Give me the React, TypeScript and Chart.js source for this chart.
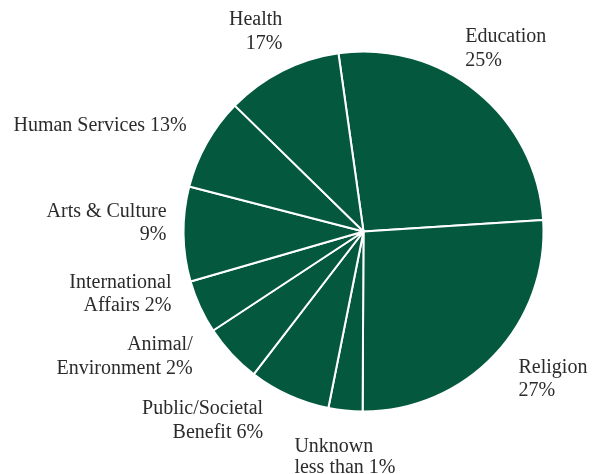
import React, { useEffect, useRef } from "react";
import { Chart, registerables } from "chart.js";

Chart.register(...registerables);

// Slice sizes as drawn (share of the circle, %), clockwise from Education
const categories = [
  "Education",
  "Religion",
  "Unknown",
  "Public/Societal Benefit",
  "Animal/Environment",
  "International Affairs",
  "Arts & Culture",
  "Human Services",
  "Health",
];
const sliceValues = [26.2, 26.1, 3.05, 7.3, 5.3, 4.8, 8.5, 8.3, 10.45];
// Label text lines as printed
const labelLines: string[][] = [
  ["Education", "25%"],
  ["Religion", "27%"],
  ["Unknown", "less than 1%"],
  ["Public/Societal", "Benefit 6%"],
  ["Animal/", "Environment 2%"],
  ["International", "Affairs 2%"],
  ["Arts & Culture", "9%"],
  ["Human Services 13%"],
  ["Health", "17%"],
];

// Label placement relative to each slice's outer mid point
const labelLayout: { align: CanvasTextAlign; dx: number; dy: number; lh: number }[] = [
  { align: "left", dx: -12, dy: -50, lh: 24 },
  { align: "left", dx: 24, dy: 18, lh: 23.5 },
  { align: "left", dx: -51, dy: 41, lh: 21.5 },
  { align: "right", dx: -26, dy: 19, lh: 23.5 },
  { align: "right", dx: -39, dy: -4, lh: 23.5 },
  { align: "right", dx: -28.5, dy: -19, lh: 23.5 },
  { align: "right", dx: -17, dy: -17.5, lh: 23.5 },
  { align: "right", dx: -20, dy: -12.5, lh: 23.5 },
  { align: "right", dx: 0, dy: -46, lh: 24 },
];

const GREEN = "#03583e";
const TEXT = "#2b2b2b";
const FONT = '20px "Liberation Serif", "DejaVu Serif", serif';

const labelPlugin = {
  id: "sliceLabels",
  afterDraw(chart: any) {
    const ctx = chart.ctx;
    const meta = chart.getDatasetMeta(0);
    ctx.save();
    ctx.font = FONT;
    ctx.fillStyle = TEXT;
    ctx.textBaseline = "alphabetic";
    meta.data.forEach((arc: any, i: number) => {
      const { x, y, startAngle, endAngle, outerRadius } = arc.getProps(
        ["x", "y", "startAngle", "endAngle", "outerRadius"],
        true
      );
      const mid = (startAngle + endAngle) / 2;
      const ax = x + Math.cos(mid) * outerRadius;
      const ay = y + Math.sin(mid) * outerRadius;
      const lay = labelLayout[i];
      ctx.textAlign = lay.align;
      labelLines[i].forEach((line, j) => {
        ctx.fillText(line, ax + lay.dx, ay + lay.dy + j * lay.lh);
      });
    });
    ctx.restore();
  },
};

export default function App() {
  const ref = useRef<HTMLCanvasElement | null>(null);
  useEffect(() => {
    if (!ref.current) return;
    const chart = new Chart(ref.current, {
      type: "pie",
      data: {
        labels: categories,
        datasets: [
          {
            data: sliceValues,
            backgroundColor: GREEN,
            borderColor: "#ffffff",
            borderWidth: 2,
            hoverOffset: 0,
          },
        ],
      },
      options: {
        animation: false,
        responsive: true,
        maintainAspectRatio: false,
        rotation: -8,
        radius: 180,
        layout: { padding: { left: 150, right: 23, top: 40, bottom: 51 } },
        plugins: {
          legend: { display: false },
          tooltip: { enabled: false },
        },
      },
      plugins: [labelPlugin],
    });
    return () => chart.destroy();
  }, []);
  return (
    <div
      style={{
        position: "fixed",
        left: 0,
        top: 0,
        width: 600,
        height: 474,
        background: "#ffffff",
      }}
    >
      <canvas ref={ref} />
    </div>
  );
}
